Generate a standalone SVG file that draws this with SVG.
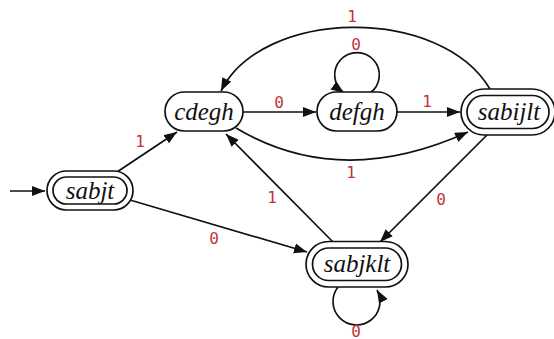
<svg xmlns="http://www.w3.org/2000/svg" width="554" height="339" viewBox="0 0 554 339">
<style>
.n{fill:#fff;stroke:#111;stroke-width:1.7}
.t{font-family:"Liberation Serif",serif;font-style:italic;font-size:25px;fill:#111;text-anchor:middle}
.e{fill:none;stroke:#111;stroke-width:1.7;marker-end:url(#ah)}
.l{font-family:"DejaVu Sans Mono",monospace;font-size:16px;fill:#c4323a;text-anchor:middle;dominant-baseline:central}
</style>
<defs>
<marker id="ah" markerUnits="userSpaceOnUse" markerWidth="14" markerHeight="12" refX="13" refY="5" orient="auto">
<path d="M0,0 L13,5 L0,10 Z" fill="#111"/>
</marker>
</defs>
<rect width="554" height="339" fill="#fff"/>
<g id="edges">
<path class="e" d="M10,191 L45,191"/>
<path class="e" d="M117,172 L177,132"/>
<path class="e" d="M243,112 L316,112"/>
<path class="e" d="M370,93 A22.3,22.3 0 1 0 344,93"/>
<path class="e" d="M397,112 L460,112"/>
<path class="e" d="M236,128 Q340,190 468,132"/>
<path class="e" d="M490,89 C440,5 262,8 221,91"/>
<path class="e" d="M487,135 L380,242"/>
<path class="e" d="M333,242 L226,134"/>
<path class="e" d="M130,200 L307,252"/>
<path class="e" d="M338,287 A23.5,23.5 0 1 0 377,290"/>
</g>
<g id="labels">
<text class="l" x="140" y="141">1</text>
<text class="l" x="279" y="102">0</text>
<text class="l" x="356" y="44">0</text>
<text class="l" x="352" y="16">1</text>
<text class="l" x="427" y="101">1</text>
<text class="l" x="351" y="172">1</text>
<text class="l" x="441" y="199">0</text>
<text class="l" x="272" y="197">1</text>
<text class="l" x="214" y="238">0</text>
<text class="l" x="356" y="331">0</text>
</g>
<g id="sabjt">
<rect class="n" x="47" y="171" width="86" height="39" rx="19.5"/>
<rect class="n" x="53" y="177" width="74" height="27" rx="13.5"/>
<text class="t" x="90" y="199">sabjt</text>
</g>
<g id="cdegh">
<rect class="n" x="165" y="92" width="78" height="39" rx="19.5"/>
<text class="t" x="204" y="120">cdegh</text>
</g>
<g id="defgh">
<rect class="n" x="317" y="92" width="80" height="39" rx="19.5"/>
<text class="t" x="357" y="120">defgh</text>
</g>
<g id="sabijlt">
<rect class="n" x="461" y="89" width="94" height="46" rx="23"/>
<rect class="n" x="467" y="95.5" width="82" height="33" rx="16.5"/>
<text class="t" x="509" y="120">sabijlt</text>
</g>
<g id="sabjklt">
<rect class="n" x="306" y="241.5" width="102" height="45.5" rx="22.75"/>
<rect class="n" x="312.5" y="248" width="89" height="32.5" rx="16.25"/>
<text class="t" x="357" y="272">sabjklt</text>
</g>
</svg>
